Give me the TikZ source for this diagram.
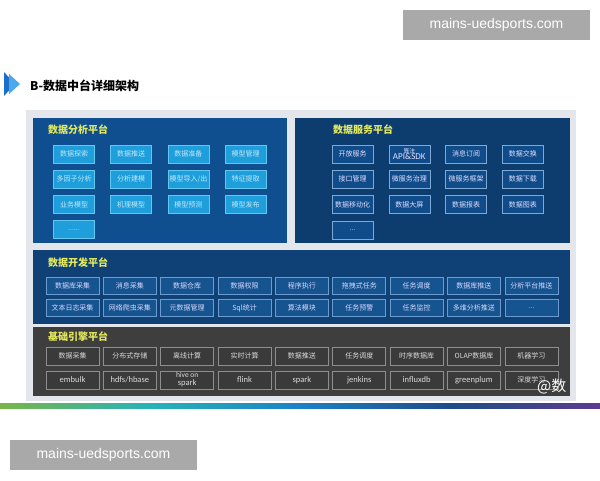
\documentclass[tikz,border=0pt]{standalone}
\usepackage{fontspec}
\setmainfont{Noto Sans CJK SC}
\newfontfamily\wmfont{Liberation Sans}
\newfontfamily\latinfont{Carlito}
\newcommand\mysixdots{......}
\newcommand\mythreedots{...}
\definecolor{frame}{HTML}{E3E7EC}
\definecolor{panelA}{HTML}{0F4E8F}
\definecolor{panelS}{HTML}{0D3C6F}
\definecolor{panelD}{HTML}{0F4176}
\definecolor{panelE}{HTML}{3E3E3E}
\definecolor{titlec}{HTML}{E4EA5E}
\definecolor{aFill}{HTML}{1E9FDC}
\definecolor{aDraw}{HTML}{62C6EE}
\definecolor{aText}{HTML}{C4E8F8}
\definecolor{sFill}{HTML}{104C8A}
\definecolor{sDraw}{HTML}{7FA8D4}
\definecolor{dFill}{HTML}{16548F}
\definecolor{dDraw}{HTML}{6C9BCF}
\definecolor{eFill}{HTML}{3A3A3A}
\definecolor{eDraw}{HTML}{8E8E8E}
\definecolor{eText}{HTML}{DADADA}
\definecolor{wm}{HTML}{A9A9A9}
\definecolor{g1}{HTML}{78B646}
\definecolor{g2}{HTML}{27B2BA}
\definecolor{g3}{HTML}{1C82C4}
\definecolor{g4}{HTML}{1D4C88}
\definecolor{g5}{HTML}{5C3C90}
\definecolor{icon1}{HTML}{1C6FC8}
\definecolor{icon2}{HTML}{4AA8EC}
\begin{document}
\begin{tikzpicture}[x=1pt,y=-1pt,
  abox/.style={draw=aDraw,fill=aFill,text=aText,minimum width=41pt,minimum height=18pt,inner sep=0pt,line width=0.6pt,font=\fontsize{7}{8}\selectfont},
  sbox/.style={draw=sDraw,fill=sFill,text=white!88!blue,minimum width=41pt,minimum height=18pt,inner sep=0pt,line width=0.6pt,align=center,font=\fontsize{7}{8}\selectfont},
  dbox/.style={draw=dDraw,fill=dFill,text=white!85!blue,minimum width=53pt,minimum height=17pt,inner sep=0pt,line width=0.6pt,font=\fontsize{7}{8}\selectfont},
  ebox/.style={draw=eDraw,fill=eFill,text=eText,minimum width=53pt,minimum height=18pt,inner sep=0pt,line width=0.6pt,align=center,font=\fontsize{7}{8}\selectfont},
  lbox/.style={ebox,font=\latinfont\fontsize{8.5}{8}\selectfont},
  ptitle/.style={anchor=west,text=titlec,font=\fontsize{10}{11}\selectfont\bfseries,inner sep=0pt},
  wmbox/.style={fill=wm,text=white,inner sep=0pt,font=\wmfont\fontsize{14}{14}\selectfont}
]
\useasboundingbox (0,0) rectangle (600,480);
\fill[white] (0,0) rectangle (600,480);

% watermark boxes
\node[wmbox,minimum width=187pt,minimum height=30pt] (wm1) at (496.5,25) {mains-uedsports.com};
\node[wmbox,minimum width=187pt,minimum height=30pt] (wm2) at (103.5,455) {mains-uedsports.com};

% header
\fill[icon1] (4,72) -- (15,84) -- (4,96) -- cycle;
\fill[icon2] (9,74) -- (20,84) -- (9,94) -- cycle;
\node[anchor=west,inner sep=0pt,font=\fontsize{12}{13}\selectfont\bfseries] (head) at (30,86) {B-数据中台详细架构};

% frame and panels
\fill[frame] (26,110) rectangle (576,401);
\fill[panelA] (33,118) rectangle (287,243);
\fill[panelS] (295,118) rectangle (570,243);
\fill[panelD] (33,250) rectangle (570,324);
\fill[panelE] (33,327) rectangle (570,396);

% gradient bar
\shade[left color=g1,right color=g2] (0,403) rectangle (150.5,408);
\shade[left color=g2,right color=g3] (150,403) rectangle (300.5,408);
\shade[left color=g3,right color=g4] (300,403) rectangle (450.5,408);
\shade[left color=g4,right color=g5] (450,403) rectangle (600,408);

% titles
\node[ptitle] (tA) at (48,130) {数据分析平台};
\node[ptitle] (tS) at (333,130) {数据服务平台};
\node[ptitle] (tD) at (48,263) {数据开发平台};
\node[ptitle] (tE) at (48,337) {基础引擎平台};

% analysis boxes
\foreach \t [count=\i from 0] in {数据探索,数据推送,数据准备,模型管理,多因子分析,分析建模,模型导入/出,特征提取,业务模型,机理模型,模型预测,模型发布,\mysixdots}{
  \pgfmathtruncatemacro{\c}{mod(\i,4)}
  \pgfmathtruncatemacro{\r}{\i/4}
  \node[abox] (a\i) at (74+\c*57.2,154+\r*25.2) {\t};
}

% service boxes
\foreach \t [count=\i from 0] in {开放服务,X,消息订阅,数据交换,接口管理,微服务治理,微服务框架,数据下载,数据移动化,数据大屏,数据报表,数据图表,\mythreedots}{
  \pgfmathtruncatemacro{\c}{mod(\i,4)}
  \pgfmathtruncatemacro{\r}{\i/4}
  \ifnum\i=1\relax
    \node[sbox] (s\i) at (352.5+\c*56.8,154+\r*25.3) {{\fontsize{5.8}{5.8}\selectfont 算法}\\[-1.5pt]{\latinfont\fontsize{9}{8}\selectfont API\&SDK}};
  \else
    \node[sbox] (s\i) at (352.5+\c*56.8,154+\r*25.3) {\t};
  \fi
}

% development boxes
\foreach \t [count=\i from 0] in {数据库采集,消息采集,数据仓库,数据权限,程序执行,拖拽式任务,任务调度,数据库推送,分析平台推送,文本日志采集,网络爬虫采集,元数据管理,Sql统计,算法模块,任务预警,任务监控,多维分析推送,\mythreedots}{
  \pgfmathtruncatemacro{\c}{mod(\i,9)}
  \pgfmathtruncatemacro{\r}{\i/9}
  \node[dbox] (d\i) at (72.5+\c*57.35,285.5+\r*22.5) {\t};
}

% engine boxes
\foreach \t [count=\i from 0] in {数据采集,分布式存储,离线计算,实时计算,数据推送,任务调度,时序数据库,OLAP数据库,机器学习}{
  \node[ebox] (e\i) at (72.5+\i*57.35,356) {\t};
}
\foreach \t [count=\i from 0] in {embulk,hdfs/hbase,X,flink,spark,jenkins,influxdb,greenplum}{
  \ifnum\i=2\relax
    \node[lbox] (f\i) at (72.5+\i*57.35,380) {\fontsize{7.5}{7}\selectfont hive on\\spark};
  \else
    \node[lbox] (f\i) at (72.5+\i*57.35,380) {\t};
  \fi
}
\node[ebox] (f8) at (72.5+8*57.35,380) {深度学习};

% corner watermark
\node[anchor=west,inner sep=0pt,text=white,font=\fontsize{15}{15}\selectfont] (wm3) at (537,386) {@数};
\end{tikzpicture}
\end{document}
